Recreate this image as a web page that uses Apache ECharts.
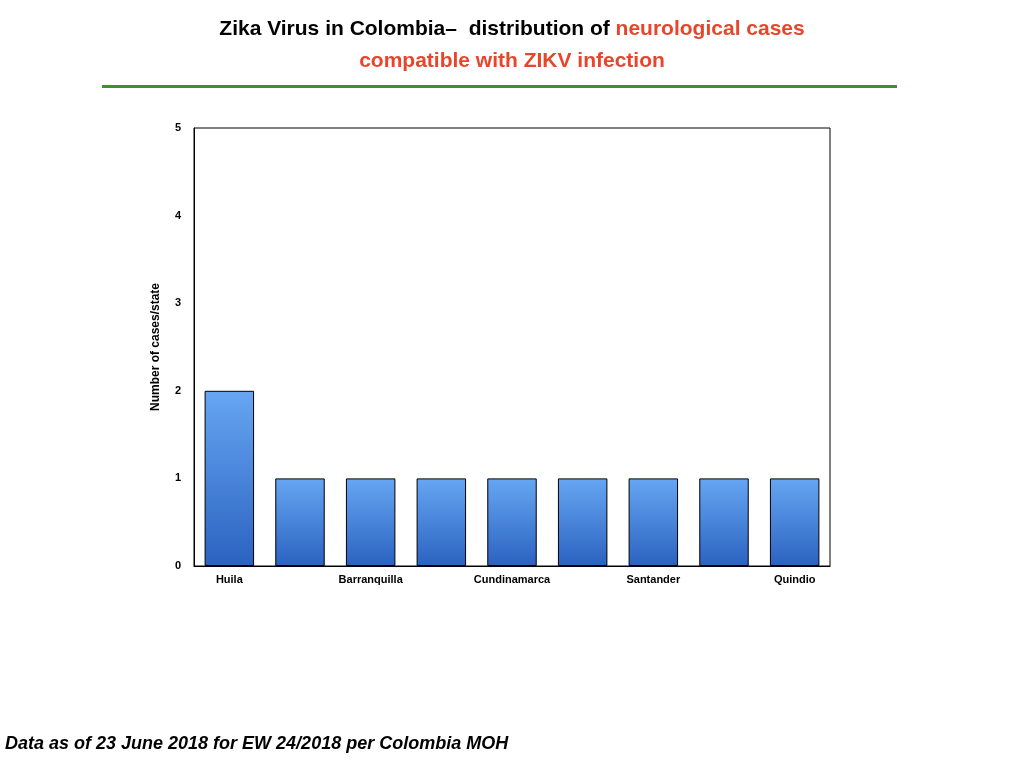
<!DOCTYPE html>
<html><head><meta charset="utf-8">
<script src="https://cdn.jsdelivr.net/npm/echarts@6/dist/echarts.min.js"></script>
<style>body{margin:0;background:#fff}#c{width:1024px;height:768px}</style>
</head><body><div id="c"></div>
<script>
const categories = ["Huila","Antioquia","Barranquilla","Bolívar","Cundinamarca","Tolima","Santander","Valle","Quindio"];
const cases = [2,1,1,1,1,1,1,1,1];
const yTicks = [0,1,2,3,4,5];
const chart = echarts.init(document.getElementById('c'));
chart.setOption({
  animation:false,
  title:{text:'{a|Zika Virus in Colombia–  distribution of }{b|neurological cases}\n{b|compatible with ZIKV infection}',
    left:'center',top:8,textStyle:{rich:{a:{fontSize:21,fontWeight:'bold',color:'#000',fontFamily:'Liberation Sans',lineHeight:32},b:{fontSize:21,fontWeight:'bold',color:'#e8452c',fontFamily:'Liberation Sans',lineHeight:32}}}},
  graphic:[
    {type:'rect',shape:{x:102,y:85,width:795,height:3},style:{fill:'#3f8f2a'}},
    {type:'text',left:5,top:735,style:{text:'Data as of 23 June 2018 for EW 24/2018 per Colombia MOH',fontStyle:'italic',fontWeight:'bold',fontSize:18,fontFamily:'Liberation Sans',fill:'#000'}},
    {type:'rect',shape:{x:194,y:128,width:636,height:438},style:{fill:'none',stroke:'#000',lineWidth:1},z:-1}
  ],
  grid:{left:194,right:194,top:128,bottom:202},
  xAxis:{type:'category',data:categories,axisTick:{show:false},axisLine:{lineStyle:{color:'#000'}},
    axisLabel:{interval:1,color:'#000',fontWeight:'bold',fontSize:11,fontFamily:'Liberation Sans',margin:8}},
  yAxis:{type:'value',min:0,max:5,interval:1,name:'Number of cases/state',nameLocation:'middle',nameGap:32,
    nameTextStyle:{fontWeight:'bold',fontSize:12,color:'#000',fontFamily:'Liberation Sans'},
    axisLine:{show:true,lineStyle:{color:'#000'}},axisTick:{show:false},splitLine:{show:false},
    axisLabel:{color:'#000',fontWeight:'bold',fontSize:11,fontFamily:'Liberation Sans',margin:13,
      formatter:v=>yTicks.includes(v)?String(v):''}},
  series:[{type:'bar',data:cases,barCategoryGap:'30%',
    itemStyle:{borderColor:'#000',borderWidth:1,color:new echarts.graphic.LinearGradient(0,0,0,1,[{offset:0,color:'#66a6f2'},{offset:1,color:'#2b62c0'}])}}]
});
</script></body></html>
